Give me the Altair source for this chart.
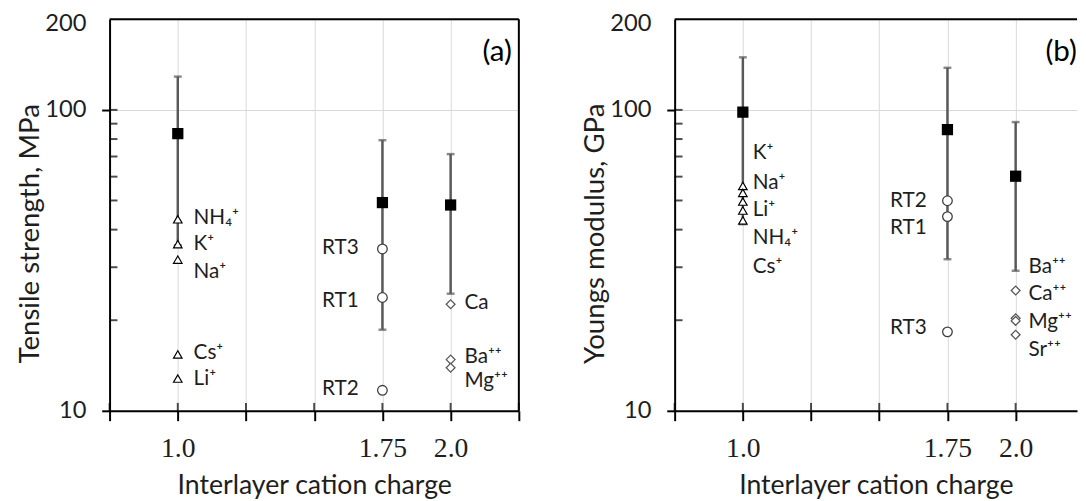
import altair as alt
import pandas as pd

# ---------------- Panel (a): tensile strength, MPa ----------------
a_charge = [1.0, 1.75, 2.0]
a_mean = [83.4, 49.2, 48.3]
a_low = [35.5, 18.6, 24.5]
a_high = [129.0, 79.3, 71.3]

a_tri_names = ["NH₄⁺", "K⁺", "Na⁺", "Cs⁺", "Li⁺"]
a_tri_vals = [43.3, 35.8, 31.8, 15.4, 12.8]
a_tri_label_y = [43.6, 35.8, 29.0, 15.5, 12.7]

a_circ_names = ["RT3", "RT1", "RT2"]
a_circ_vals = [34.5, 23.8, 11.7]
a_circ_label_y = [34.8, 23.1, 11.8]

a_dia_names = ["Ca", "Ba⁺⁺", "Mg⁺⁺"]
a_dia_vals = [22.6, 14.8, 13.9]
a_dia_label_y = [22.8, 15.1, 12.6]

# ---------------- Panel (b): Youngs modulus, GPa ----------------
b_charge = [1.0, 1.75, 2.0]
b_mean = [98.3, 86.0, 60.2]
b_low = [41.7, 31.9, 29.2]
b_high = [149.5, 138.0, 91.1]

b_tri_names = ["K⁺", "Na⁺", "Li⁺", "NH₄⁺", "Cs⁺"]
b_tri_vals = [55.9, 53.0, 49.6, 46.3, 42.9]
b_tri_label_y = [71.7, 57.2, 46.6, 37.5, 30.1]

b_circ_names = ["RT2", "RT1", "RT3"]
b_circ_vals = [49.9, 44.2, 18.3]
b_circ_label_y = [49.9, 40.4, 18.9]

b_dia_names = ["Ba⁺⁺", "Ca⁺⁺", "Mg⁺⁺", "Sr⁺⁺"]
b_dia_vals = [25.1, 20.3, 19.9, 17.9]
b_dia_label_y = [30.1, 24.4, 19.7, 15.9]

# ---------------- axes ----------------
x_ticks = [0.75, 1.0, 1.25, 1.5, 1.75, 2.0, 2.25]
y_major = [10, 100, 200]
y_minor = [20, 30, 40, 50, 60, 70, 80, 90, 100]
x_min = 0.75
y_min, y_max = 10, 200

FONT = "Lato"
TXT = "#1e1e1e"
BAR = "#595959"
PX_PER_UNIT = 276.7
PLOT_H = 397


def panel(tag, ytitle, charge, mean, low, high,
          tri_n, tri_v, tri_ly, circ_n, circ_v, circ_ly, dia_n, dia_v, dia_ly,
          xmax, right_border, dx_tri, dx_circ, dx_dia):
    xs = alt.Scale(domain=[x_min, xmax], nice=False, zero=False)
    ys = alt.Scale(type="log", domain=[y_min, y_max], nice=False)
    ticks = [t for t in x_ticks if t <= xmax + 1e-9]

    x_axis = alt.Axis(
        values=ticks,
        labelExpr="datum.value == 1 ? '1.0' : datum.value == 1.75 ? '1.75' : datum.value == 2 ? '2.0' : ''",
        title="Interlayer cation charge", grid=True, gridColor="#d9d9d9", gridWidth=1,
        tickSize=10, tickWidth=2, tickColor="black", domainColor="black", domainWidth=2,
        labelFont="Liberation Serif", labelFontSize=28, labelPadding=14, labelColor=TXT,
        labelFlush=False, labelOverlap=False,
        titleFont=FONT, titleFontSize=27, titleFontWeight="normal", titlePadding=11,
        titleColor=TXT)
    y_axis = alt.Axis(
        values=y_major, format="d", title=ytitle, grid=True, gridColor="#d9d9d9", gridWidth=1,
        tickSize=8, tickWidth=2, tickColor="black",
        tickOpacity={"condition": {"test": "datum.value == 200", "value": 0}, "value": 1},
        labelOffset={"condition": {"test": "datum.value == 200", "value": 4}, "value": 0},
        domainColor="black", domainWidth=2,
        labelFont=FONT, labelFontSize=24, labelPadding=16, labelColor=TXT,
        titleFont=FONT, titleFontSize=28, titleFontWeight="normal", titlePadding=0,
        titleY=217, titleColor=TXT)

    def X(f):
        return alt.X(f, type="quantitative", scale=xs, axis=x_axis)

    def Y(f):
        return alt.Y(f, type="quantitative", scale=ys, axis=y_axis)

    means = pd.DataFrame({"x": charge, "y": mean, "lo": low, "hi": high})
    caps = pd.DataFrame({"x": charge + charge, "y": low + high})

    bars = alt.Chart(means).mark_rule(color=BAR, strokeWidth=2.5).encode(
        x=X("x"), y=Y("lo"), y2="hi:Q")
    cap = alt.Chart(caps).mark_tick(orient="horizontal", size=8, thickness=2.5, color=BAR).encode(
        x=X("x"), y=Y("y"))
    sq = alt.Chart(means).mark_point(shape="square", filled=True, color="black",
                                     size=130, opacity=1).encode(x=X("x"), y=Y("y"))

    tri = pd.DataFrame({"x": [charge[0]] * len(tri_v), "y": tri_v, "ly": tri_ly, "t": tri_n})
    cir = pd.DataFrame({"x": [charge[1]] * len(circ_v), "y": circ_v, "ly": circ_ly, "t": circ_n})
    dia = pd.DataFrame({"x": [charge[2]] * len(dia_v), "y": dia_v, "ly": dia_ly, "t": dia_n})

    tri_pts = alt.Chart(tri).mark_point(shape="triangle-up", filled=True, fill="white",
                                        stroke="black", strokeWidth=1.2, size=75,
                                        opacity=1).encode(x=X("x"), y=Y("y"))
    cir_pts = alt.Chart(cir).mark_point(shape="circle", filled=True, fill="white",
                                        stroke="#404040", strokeWidth=1.3, size=95,
                                        opacity=1).encode(x=X("x"), y=Y("y"))
    dia_pts = alt.Chart(dia).mark_point(shape="diamond", filled=True, fill="white",
                                        stroke=BAR, strokeWidth=1.3, size=80,
                                        opacity=1).encode(x=X("x"), y=Y("y"))

    def labels(df, align, dx):
        return alt.Chart(df).mark_text(align=align, baseline="middle", dx=dx, font=FONT,
                                       fontSize=21, color=TXT).encode(
            x=X("x"), y=Y("ly"), text="t:N")

    tag_df = pd.DataFrame({"x": [2.25], "y": [156], "t": [tag]})
    tag_txt = alt.Chart(tag_df).mark_text(align="right", baseline="middle", dx=-7, font=FONT,
                                          fontSize=30, color="black").encode(
        x=X("x"), y=Y("y"), text="t:N")

    xt = pd.DataFrame({"x": ticks, "y": [y_min] * len(ticks)})
    yt = pd.DataFrame({"x": [x_min] * len(y_minor), "y": y_minor})
    xin = alt.Chart(xt).mark_tick(orient="vertical", size=8, thickness=2, color="black",
                                  yOffset=-4).encode(x=X("x"), y=Y("y"))
    yin = alt.Chart(yt).mark_tick(orient="horizontal", size=8, thickness=2, color="black",
                                  xOffset=4).encode(x=X("x"), y=Y("y"))

    top = pd.DataFrame({"x": [x_min], "x2": [xmax], "y": [y_max]})
    top_rule = alt.Chart(top).mark_rule(color="black", strokeWidth=2).encode(
        x=X("x"), x2="x2:Q", y=Y("y"))
    layers = [bars, xin, yin, top_rule]
    if right_border:
        rb = pd.DataFrame({"x": [xmax], "y": [y_min], "y2": [y_max]})
        layers.append(alt.Chart(rb).mark_rule(color="black", strokeWidth=2).encode(
            x=X("x"), y=Y("y"), y2="y2:Q"))
    layers += [cap, tri_pts, cir_pts, dia_pts, sq,
               labels(tri, "left", dx_tri), labels(cir, "right", dx_circ),
               labels(dia, "left", dx_dia), tag_txt]
    width = round((xmax - x_min) * PX_PER_UNIT)
    return alt.layer(*layers).properties(width=width, height=PLOT_H)


left = panel("(a)", "Tensile strength, MPa", a_charge, a_mean, a_low, a_high,
             a_tri_names, a_tri_vals, a_tri_label_y,
             a_circ_names, a_circ_vals, a_circ_label_y,
             a_dia_names, a_dia_vals, a_dia_label_y,
             xmax=2.25, right_border=True, dx_tri=16, dx_circ=-24, dx_dia=14)
right = panel("(b)", "Youngs modulus, GPa", b_charge, b_mean, b_low, b_high,
              b_tri_names, b_tri_vals, b_tri_label_y,
              b_circ_names, b_circ_vals, b_circ_label_y,
              b_dia_names, b_dia_vals, b_dia_label_y,
              xmax=2.225, right_border=False, dx_tri=10, dx_circ=-21, dx_dia=13)

chart = alt.hconcat(left, right, spacing=63).properties(
    padding={"left": 9, "top": 0, "right": 0, "bottom": 0},
    background="white",
).configure_view(stroke=None)

chart.save("out.html", embed_options={"renderer": "svg", "actions": False})
